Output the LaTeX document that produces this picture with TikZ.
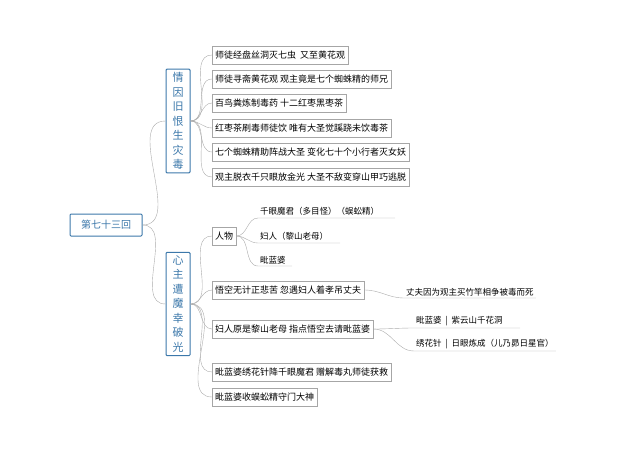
\documentclass[tikz,border=0pt]{standalone}
\usepackage{fontspec}
\setmainfont{Noto Sans CJK SC}
\usetikzlibrary{positioning}
\definecolor{blueline}{RGB}{60,120,170}
\definecolor{linkgray}{RGB}{170,170,170}
\begin{document}
\begin{tikzpicture}[x=1pt,y=-1pt,font=\fontsize{9}{10}\selectfont]
\tikzstyle{rootbox} = [rectangle, draw=blueline, line width=1pt, rounded corners=1pt, text=blueline, minimum width=72pt, minimum height=22pt, fill=white, font=\fontsize{10}{12}\selectfont]
\tikzstyle{branchbox} = [rectangle, draw=blueline, line width=1pt, rounded corners=1pt, text=blueline, minimum width=24pt, align=center, font=\fontsize{11}{14.5}\selectfont]
\tikzstyle{leafbox} = [rectangle, draw=black!35, anchor=west, minimum height=18pt, inner sep=3pt]
\tikzstyle{subleaf} = [anchor=south west, inner sep=2pt, font=\fontsize{8.5}{9}\selectfont]
\tikzstyle{link} = [draw=linkgray, thin]

\useasboundingbox (0,0) rectangle (640,450);

%node
\node (root) [rootbox] at (106,225) {第七十三回};
\node (BA) [branchbox] at (178,121) {情\\因\\旧\\恨\\生\\灾\\毒};
\node (BB) [branchbox] at (178,304) {心\\主\\遭\\魔\\幸\\破\\光};

%top leaves
\node (A1) [leafbox] at (212,55) {师徒经盘丝洞灭七虫\ \ 又至黄花观};
\node (A2) [leafbox] at (212,79) {师徒寻斋黄花观 观主竟是七个蜘蛛精的师兄};
\node (A3) [leafbox] at (212,103) {百鸟粪炼制毒药 十二红枣黑枣茶};
\node (A4) [leafbox] at (212,128) {红枣茶刷毒师徒饮 唯有大圣觉蹊跷未饮毒茶};
\node (A5) [leafbox] at (212,152) {七个蜘蛛精助阵战大圣 变化七十个小行者灭女妖};
\node (A6) [leafbox] at (212,177) {观主脱衣千只眼放金光 大圣不敌变穿山甲巧逃脱};

%bottom leaves
\node (B1) [leafbox] at (212,236) {人物};
\node (B2) [leafbox] at (212,290) {悟空无计正悲苦 忽遇妇人着孝吊丈夫};
\node (B3) [leafbox] at (212,329) {妇人原是黎山老母 指点悟空去请毗蓝婆};
\node (B4) [leafbox] at (212,372) {毗蓝婆绣花针降千眼魔君 赠解毒丸师徒获救};
\node (B5) [leafbox] at (212,397) {毗蓝婆收蜈蚣精守门大神};

%sub leaves
\node (C1) [subleaf] at (258,218) {千眼魔君（多目怪）（蜈蚣精）};
\node (C2) [subleaf] at (258,243) {妇人（黎山老母）};
\node (C3) [subleaf] at (258,266) {毗蓝婆};
\node (D1) [subleaf] at (404,298) {丈夫因为观主买竹竿相争被毒而死};
\node (E1) [subleaf] at (414,328) {毗蓝婆\ \ \textbar\ \ 紫云山千花洞};
\node (E2) [subleaf] at (414,351) {绣花针\ \ \textbar\ \ 日眼炼成（儿乃昴日星官）};

%lines
\draw [link] (root.east) to[out=0,in=180] (BA.west);
\draw [link] (root.east) to[out=0,in=180] (BB.west);
\foreach \n in {A1,A2,A3,A4,A5,A6}
  \draw [link] (BA.east) to[out=0,in=180] (\n.west);
\foreach \n in {B1,B2,B3,B4,B5}
  \draw [link] (BB.east) to[out=0,in=180] (\n.west);
\foreach \n/\e in {C1/395,C2/340,C3/292}
  \draw [link] (B1.east) to[out=0,in=180] (\n.south west) -- (\n.south west -| \e,0);
\draw [link] (B2.east) to[out=0,in=180] (D1.south west) -- (D1.south east);
\draw [link] (B3.east) to[out=0,in=180] (E1.south west) -- (E1.south west -| 520,0);
\draw [link] (B3.east) to[out=0,in=180] (E2.south west) -- (E2.south east);
\end{tikzpicture}
\end{document}
